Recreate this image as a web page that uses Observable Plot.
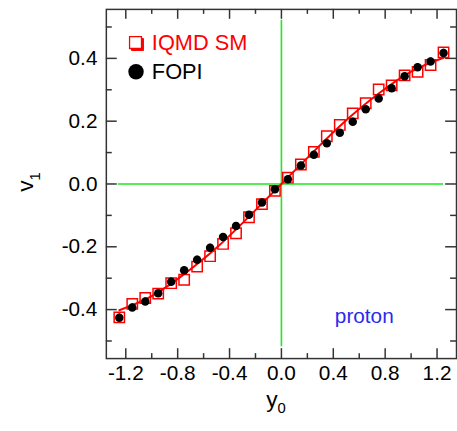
<!DOCTYPE html>
<html>
<head>
<meta charset="utf-8">
<script src="https://cdn.jsdelivr.net/npm/d3@7"></script>
<script src="https://cdn.jsdelivr.net/npm/@observablehq/plot@0.6"></script>
<style>
  html, body { margin: 0; padding: 0; background: #fff; overflow: hidden; }
  #chart { width: 457px; height: 431px; overflow: hidden; }
</style>
</head>
<body>
<div id="chart"></div>
<script>
// rapidity bins y0
const rapidity = [-1.25,-1.15,-1.05,-0.95,-0.85,-0.75,-0.65,-0.55,-0.45,-0.35,-0.25,-0.15,-0.05,
                  0.05,0.15,0.25,0.35,0.45,0.55,0.65,0.75,0.85,0.95,1.05,1.15,1.25];
// IQMD SM (open squares)
const iqmdV1 = [-0.425,-0.382,-0.363,-0.349,-0.316,-0.305,-0.263,-0.230,-0.191,-0.157,-0.106,-0.064,-0.022,
                0.020,0.062,0.102,0.152,0.188,0.225,0.257,0.301,0.314,0.346,0.357,0.379,0.419];
// FOPI (filled circles)
const fopiV1 = [-0.426,-0.393,-0.374,-0.348,-0.311,-0.275,-0.241,-0.203,-0.169,-0.134,-0.098,-0.059,-0.017,
                0.015,0.059,0.093,0.130,0.163,0.198,0.238,0.272,0.305,0.343,0.372,0.390,0.417];
const fopiErr = [0.012,0.011,0.011,0.011,0.011,0.011,0.011,0.011,0.011,0.010,0.010,0.010,0.010,
                 0.010,0.010,0.010,0.010,0.010,0.011,0.011,0.011,0.011,0.011,0.011,0.011,0.012];
// red smooth curve
const curveX = [-1.25,-1.0,-0.75,-0.5,-0.25,0,0.25,0.5,0.75,1.0,1.25];
const curveY = [-0.402,-0.357,-0.287,-0.203,-0.104,0,0.104,0.203,0.288,0.358,0.402];
// axis ticks
const xMajor = [-1.2,-0.8,-0.4,0,0.4,0.8,1.2];
const xMinor = [-1.0,-0.6,-0.2,0.2,0.6,1.0];
const yMajor = [-0.4,-0.2,0,0.2,0.4];
const yMinor = [-0.5,-0.3,-0.1,0.1,0.3,0.5];

const iqmd = rapidity.map((x, i) => ({x, v: iqmdV1[i]}));
const fopi = rapidity.map((x, i) => ({x, v: fopiV1[i], e: fopiErr[i]}));
const curve = curveX.map((x, i) => ({x, v: curveY[i]}));

const W = 462, H = 431, mL = 107, mR = 1, mT = 9, mB = 69;
const fw = W - mL - mR, fh = H - mT - mB;
const axisColor = "#333";
const font = "'Liberation Sans', Arial, Helvetica, sans-serif";

const plot = Plot.plot({
  width: W, height: H,
  marginLeft: mL, marginRight: mR, marginTop: mT, marginBottom: mB,
  style: {fontFamily: font, background: "white", overflow: "visible"},
  x: {domain: [-1.35, 1.35]},
  y: {domain: [-0.556, 0.556]},
  marks: [
    // green zero lines
    Plot.ruleY([0], {stroke: "#1ee81e", strokeWidth: 1.6, insetLeft: 12, insetRight: 13}),
    Plot.ruleX([0], {stroke: "#1ee81e", strokeWidth: 1.6, insetTop: 11, insetBottom: 12}),
    // frame
    Plot.frame({stroke: axisColor, strokeWidth: 1.5}),
    // inward ticks: bottom & top
    Plot.tickX(xMajor, {x: d => d, insetTop: fh - 10, stroke: axisColor, strokeWidth: 1.5}),
    Plot.tickX(xMinor, {x: d => d, insetTop: fh - 5, stroke: axisColor, strokeWidth: 1.5}),
    Plot.tickX(xMajor, {x: d => d, insetBottom: fh - 10, stroke: axisColor, strokeWidth: 1.5}),
    Plot.tickX(xMinor, {x: d => d, insetBottom: fh - 5, stroke: axisColor, strokeWidth: 1.5}),
    // inward ticks: left & right
    Plot.tickY(yMajor, {y: d => d, insetRight: fw - 11, stroke: axisColor, strokeWidth: 1.5}),
    Plot.tickY(yMinor, {y: d => d, insetRight: fw - 6, stroke: axisColor, strokeWidth: 1.5}),
    Plot.tickY(yMajor, {y: d => d, insetLeft: fw - 11, stroke: axisColor, strokeWidth: 1.5}),
    Plot.tickY(yMinor, {y: d => d, insetLeft: fw - 6, stroke: axisColor, strokeWidth: 1.5}),
    // tick labels
    Plot.axisX({ticks: xMajor, tickSize: 0, tickPadding: 7, tickFormat: d => d.toFixed(1),
                fontSize: 21, label: null, fill: "black"}),
    Plot.axisY({ticks: yMajor, tickSize: 0, tickPadding: 9, tickFormat: d => d.toFixed(1),
                fontSize: 21, label: null, fill: "black"}),
    // IQMD curve
    Plot.line(curve, {x: "x", y: "v", curve: "natural", stroke: "red", strokeWidth: 2}),
    // IQMD squares
    Plot.dot(iqmd, {x: "x", y: "v", symbol: "square", r: 5.9, stroke: "red", strokeWidth: 1.5, fill: "none"}),
    // FOPI error bars and circles
    Plot.ruleX(fopi, {x: "x", y1: d => d.v - d.e, y2: d => d.v + d.e, stroke: "black", strokeWidth: 2}),
    Plot.dot(fopi, {x: "x", y: "v", r: 4.3, fill: "black"}),
    // legend
    Plot.dot([0], {frameAnchor: "top-left", dx: 31.5, dy: 35.5, symbol: "square", r: 6.8, fill: "red", stroke: "red", strokeWidth: 1}),
    Plot.dot([0], {frameAnchor: "top-left", dx: 29.5, dy: 33.5, symbol: "square", r: 6.8, fill: "white", stroke: "red", strokeWidth: 1.3}),
    Plot.text(["IQMD SM"], {frameAnchor: "top-left", dx: 46, dy: 34, lineAnchor: "middle", text: d => d, fill: "red", fontSize: 22, textAnchor: "start"}),
    Plot.dot([0], {frameAnchor: "top-left", dx: 30, dy: 63, r: 7.8, fill: "black"}),
    Plot.text(["FOPI"], {frameAnchor: "top-left", dx: 46, dy: 63, lineAnchor: "middle", text: d => d, fill: "black", fontSize: 22, textAnchor: "start"}),
    Plot.text(["proton"], {frameAnchor: "bottom-left", dx: 231, dy: -43, lineAnchor: "middle", text: d => d, fill: "#2a2af0", fontSize: 21, textAnchor: "start"})
  ]
});

const svg = d3.select(plot);
// x-axis title y0
const xl = svg.append("text")
  .attr("x", mL + fw / 2 - 5).attr("y", 411)
  .attr("text-anchor", "middle")
  .attr("font-family", font).attr("font-size", 23).attr("fill", "black");
xl.append("tspan").text("y");
xl.append("tspan").attr("font-size", 15).attr("dy", 7).text("0");
// y-axis title v1
const yl = svg.append("text")
  .attr("transform", "translate(33,184) rotate(-90)")
  .attr("text-anchor", "middle")
  .attr("font-family", font).attr("font-size", 23).attr("fill", "black");
yl.append("tspan").text("v");
yl.append("tspan").attr("font-size", 15).attr("dy", 7).text("1");

document.getElementById("chart").appendChild(plot);
</script>
</body>
</html>
